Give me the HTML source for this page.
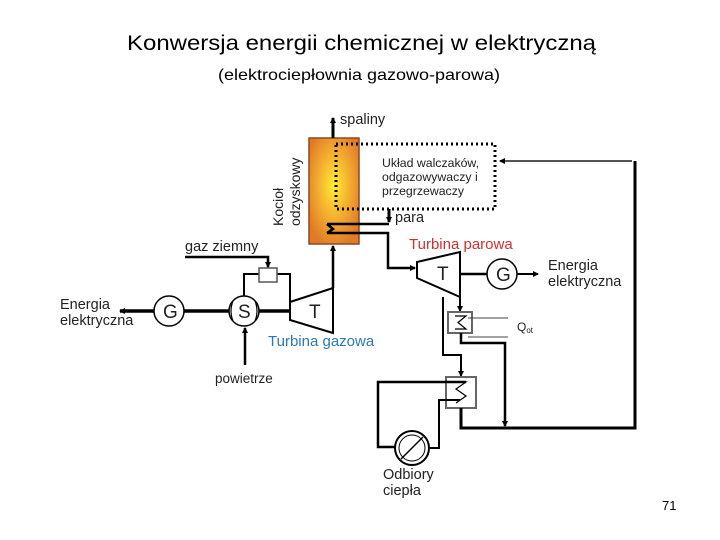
<!DOCTYPE html>
<html><head><meta charset="utf-8"><style>
body{margin:0;background:#fff;width:720px;height:540px;overflow:hidden}
svg{display:block}
text{font-family:"Liberation Sans",sans-serif}
</style></head><body>
<svg width="720" height="540" viewBox="0 0 720 540">
<defs>
<radialGradient id="bg" cx="50%" cy="45%" r="60%">
<stop offset="0" stop-color="#ffee33"/><stop offset="0.5" stop-color="#f5b030"/><stop offset="1" stop-color="#e07a28"/>
</radialGradient>
<marker id="a" markerWidth="6" markerHeight="6" refX="5" refY="3" orient="auto" markerUnits="userSpaceOnUse"><path d="M0,0L6,3L0,6z" fill="#000"/></marker>
</defs>
<text x="127" y="50" font-size="21" textLength="469" lengthAdjust="spacingAndGlyphs">Konwersja energii chemicznej w elektryczną</text>
<text x="218" y="80" font-size="16" textLength="282" lengthAdjust="spacingAndGlyphs">(elektrociepłownia gazowo-parowa)</text>
<text x="662" y="510" font-size="13">71</text>

<g stroke="#000" fill="none" stroke-width="3">
<rect x="309" y="138" width="50" height="106" fill="url(#bg)" stroke="#8a4a20" stroke-width="1.5"/>
<line x1="333" y1="138" x2="333" y2="118" marker-end="url(#a)"/>
<rect x="336" y="144" width="159" height="65" stroke-dasharray="2,3" fill="none"/>
<line x1="632" y1="161" x2="500" y2="161" stroke="#555" stroke-width="2" marker-end="url(#a)"/>
<line x1="389" y1="209" x2="389" y2="222" marker-end="url(#a)"/>
<path d="M389,224H327M327,224L333,229L327,233M327,233H388V268H415" stroke-width="2.5" marker-end="url(#a)"/>
<path d="M417,262L460,252V297L417,278Z" fill="#fff" stroke-width="2"/>
<line x1="460" y1="274" x2="487" y2="274" stroke-width="2.5"/>
<circle cx="502" cy="274" r="15" fill="#fff" stroke-width="1.5"/>
<line x1="517" y1="274" x2="538" y2="274" stroke-width="2" marker-end="url(#a)"/>
<line x1="460" y1="297" x2="460" y2="311" stroke-width="2" marker-end="url(#a)"/>
<rect x="448" y="312" width="24" height="21" fill="#fff" stroke="#666" stroke-width="2"/>
<path d="M468,318H508M468,337H508" stroke="#444" stroke-width="1"/>
<path d="M455,316H466L458,322.5L466,329H455" stroke-width="1.2"/>
<path d="M461,333V343H505V426" stroke-width="2.5" marker-end="url(#a)"/>
<path d="M443,297V355H461V376" stroke-width="2" marker-end="url(#a)"/>
<rect x="446" y="377" width="30" height="31" fill="#fff" stroke="#666" stroke-width="2"/>
<path d="M461,408V428H635V161" stroke-width="3"/>
<path d="M456,382H466L456,389L466,396L456,403" stroke-width="1.2"/>
<path d="M466,382H378V447H395" stroke-width="2.5"/>
<path d="M429,448H439V400H460" stroke-width="2"/>
<circle cx="412" cy="448" r="17" fill="#fff" stroke-width="2"/>
<circle cx="412" cy="448" r="13" stroke-width="1"/>
<line x1="401" y1="459" x2="423" y2="437" stroke-width="1.5"/>
<line x1="290" y1="311" x2="120" y2="311" stroke-width="3.5" marker-end="url(#a)"/>
<circle cx="169" cy="311" r="15" fill="#fff" stroke-width="1.5"/>
<circle cx="244" cy="311" r="15" fill="#fff" stroke-width="1.5"/>
<path d="M233,301Q229,311 233,321M255,301Q259,311 255,321" stroke-width="1.2"/>
<path d="M290,302L333,288V333L290,320Z" fill="#fff" stroke-width="2"/>
<line x1="333" y1="288" x2="333" y2="246" stroke-width="2.5" marker-end="url(#a)"/>
<path d="M244,296V274H259M277,274H290V302" stroke-width="2"/>
<rect x="259" y="268" width="18" height="14" fill="#fff" stroke="#555" stroke-width="1.5"/>
<path d="M185,257H268V267" stroke-width="2.5" marker-end="url(#a)"/>
<line x1="245" y1="365" x2="245" y2="328" stroke-width="2.5" marker-end="url(#a)"/>
</g>
<g font-size="14.5" fill="#222">
<text x="340" y="124">spaliny</text>
<text x="395" y="222">para</text>
<text x="185" y="251">gaz ziemny</text>
<text x="215" y="383" font-size="13.5">powietrze</text>
<text x="60" y="309">Energia</text><text x="60" y="325">elektryczna</text>
<text x="548" y="270">Energia</text><text x="548" y="286">elektryczna</text>
<text x="517" y="331" font-size="12">Q<tspan font-size="8" dy="2">ot</tspan></text>
<text x="383" y="479">Odbiory</text><text x="383" y="495">ciepła</text>
<text x="409" y="249" fill="#d03030" font-size="15">Turbina parowa</text>
<text x="268" y="346" fill="#2a7ab8" font-size="15">Turbina gazowa</text>
<text x="163" y="318" font-size="19">G</text>
<text x="238" y="318" font-size="19">S</text>
<text x="309" y="318" font-size="19">T</text>
<text x="437" y="280" font-size="19">T</text>
<text x="496" y="281" font-size="19">G</text>
<text x="382" y="167" font-size="12.3">Układ walczaków,</text>
<text x="382" y="181" font-size="12.3">odgazowywaczy i</text>
<text x="382" y="195" font-size="12.3">przegrzewaczy</text>
<text transform="translate(283,226) rotate(-90)" font-size="14">Kocioł</text>
<text transform="translate(300,226) rotate(-90)" font-size="14">odzyskowy</text>
</g>
</svg>
</body></html>
